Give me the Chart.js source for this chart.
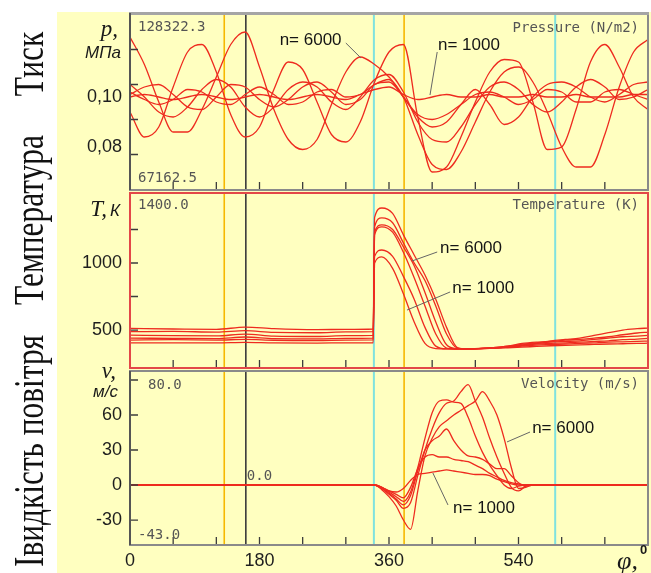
<!DOCTYPE html>
<html>
<head>
<meta charset="utf-8">
<script src="https://cdn.jsdelivr.net/npm/chart.js@4.4.0/dist/chart.umd.min.js"></script>
<style>
  html, body { margin: 0; padding: 0; background: #fff; }
  body { width: 651px; height: 573px; position: relative; overflow: hidden; }
  #bg { position: absolute; left: 57px; top: 12px; width: 594px; height: 561px; background: #ffffc0; }
  canvas { position: absolute; left: 58px; }
  #side { left: 0px; top: 0px; }
</style>
</head>
<body>
<div id="bg"></div>
<canvas id="side" width="58" height="573"></canvas>
<canvas id="cP" width="593" height="193" style="top:0px"></canvas>
<canvas id="cT" width="593" height="181" style="top:190px"></canvas>
<canvas id="cV" width="593" height="223" style="top:350px"></canvas>

<script>
// row captions on the left
const SIDE_TEXT = ['Тиск', 'Температура', 'Івидкість повітря'];
const SIDE_CENTER_Y = [64, 220, 451];

// crank angle, degrees
const X_LABELS = [0, 180, 360, 540];
const X_MARKS = [60, 120, 180, 240, 300, 360, 420, 480, 540, 600, 660];

// vertical reference lines
const MARKER_PHI = [131, 161, 339, 381, 591];
const MARKER_COLORS = ['#f6b800', '#3a3a3a', '#7fe2df', '#f6b800', '#7fe2df'];
const MARKER_WIDTHS = [1.6, 1.6, 2, 1.6, 2];

// pressure, MPa
const P_PHI = [0, 20, 40, 60, 80, 100, 120, 140, 160, 180, 200, 220, 240, 260, 280, 300, 320, 340, 360,
  380, 400, 420, 440, 460, 480, 500, 520, 540, 560, 580, 600, 620, 640, 660, 680, 700, 720];
const P1 = [0.124, 0.113, 0.098, 0.086, 0.086, 0.095, 0.108, 0.121, 0.126, 0.112, 0.095, 0.083, 0.079, 0.083, 0.097, 0.110, 0.116, 0.113, 0.108,
  0.100, 0.085, 0.073, 0.071, 0.078, 0.090, 0.102, 0.110, 0.112, 0.106, 0.094, 0.080, 0.072, 0.072, 0.085, 0.104, 0.118, 0.123];
const P2 = [0.094, 0.084, 0.088, 0.104, 0.118, 0.121, 0.110, 0.093, 0.084, 0.088, 0.103, 0.114, 0.111, 0.098, 0.085, 0.082, 0.090, 0.106, 0.118,
  0.121, 0.092, 0.070, 0.072, 0.084, 0.098, 0.110, 0.115, 0.114, 0.098, 0.079, 0.080, 0.095, 0.114, 0.121, 0.112, 0.100, 0.095];
const P3 = [0.105, 0.100, 0.094, 0.092, 0.096, 0.103, 0.107, 0.104, 0.096, 0.092, 0.096, 0.103, 0.106, 0.104, 0.098, 0.095, 0.100, 0.107, 0.109,
  0.102, 0.090, 0.083, 0.082, 0.088, 0.097, 0.104, 0.106, 0.103, 0.097, 0.094, 0.098, 0.104, 0.107, 0.104, 0.099, 0.100, 0.103];
const P4 = [0.101, 0.104, 0.105, 0.101, 0.096, 0.095, 0.100, 0.105, 0.104, 0.099, 0.096, 0.099, 0.104, 0.106, 0.102, 0.097, 0.099, 0.105, 0.106,
  0.100, 0.092, 0.088, 0.090, 0.097, 0.103, 0.097, 0.089, 0.092, 0.100, 0.105, 0.106, 0.104, 0.100, 0.098, 0.101, 0.105, 0.106];
const P5 = [0.100, 0.101, 0.100, 0.099, 0.100, 0.101, 0.100, 0.099, 0.100, 0.101, 0.100, 0.099, 0.100, 0.101, 0.100, 0.099, 0.101, 0.103, 0.104,
  0.101, 0.099, 0.100, 0.101, 0.100, 0.100, 0.101, 0.100, 0.100, 0.101, 0.100, 0.100, 0.101, 0.100, 0.100, 0.100, 0.101, 0.101];
const P6 = [0.102, 0.099, 0.097, 0.099, 0.103, 0.102, 0.098, 0.097, 0.101, 0.104, 0.101, 0.097, 0.098, 0.102, 0.103, 0.100, 0.101, 0.105, 0.107,
  0.100, 0.093, 0.091, 0.093, 0.097, 0.101, 0.102, 0.100, 0.097, 0.099, 0.103, 0.102, 0.098, 0.098, 0.102, 0.103, 0.101, 0.099];
const P_LABELS = [0.08, 0.10];
const P_MARKS = [0.077, 0.091, 0.105, 0.119];

// temperature, K
const T_PHI = [0, 60, 120, 160, 200, 260, 300, 338, 340, 350, 365, 380, 395, 410, 425, 440, 455, 470, 485,
  505, 525, 545, 565, 585, 605, 625, 645, 665, 685, 705, 720];
const T1 = [512, 508, 505, 522, 510, 503, 505, 508, 1340, 1410, 1370, 1210, 1060, 910, 730, 520, 370, 358, 360,
  365, 372, 395, 405, 420, 430, 440, 460, 480, 500, 510, 515];
const T2 = [488, 490, 485, 495, 482, 480, 486, 488, 1270, 1336, 1300, 1150, 1000, 870, 680, 470, 365, 360, 362,
  368, 380, 400, 410, 415, 425, 430, 440, 450, 465, 478, 485];
const T3 = [462, 458, 456, 470, 455, 452, 458, 460, 1230, 1285, 1250, 1120, 980, 780, 560, 390, 360, 358, 362,
  368, 380, 390, 400, 410, 415, 420, 430, 440, 450, 455, 460];
const T4 = [440, 438, 436, 448, 436, 434, 438, 440, 1210, 1270, 1230, 1080, 890, 680, 470, 365, 358, 360, 362,
  365, 375, 385, 395, 400, 405, 410, 415, 420, 428, 432, 438];
const T5 = [425, 428, 425, 430, 424, 422, 425, 426, 1050, 1097, 1050, 900, 730, 520, 380, 360, 360, 360, 363,
  366, 372, 380, 388, 392, 396, 400, 405, 410, 412, 415, 418];
const T6 = [405, 405, 404, 408, 404, 403, 405, 405, 1000, 1045, 960, 770, 560, 400, 362, 360, 360, 360, 362,
  364, 368, 372, 378, 383, 386, 390, 393, 396, 398, 400, 402];
const T_LABELS = [500, 1000];
const T_MARKS = [500, 750, 1000, 1250];

// air velocity, m/s
const V_PHI = [0, 340, 350, 360, 370, 380, 390, 400, 410, 420, 430, 440, 450, 460, 470, 480, 490, 500,
  510, 520, 530, 540, 550, 560, 570, 720];
const V1 = [0, 0, -4, -10, -18, -30, -38, -5, 25, 40, 50, 55, 60, 64, 68, 72, 80, 72, 60, 40, 15, -3, -2, 0, 0, 0];
const V2 = [0, 0, -3, -8, -13, -20, -15, 8, 30, 48, 62, 70, 72, 80, 86, 72, 58, 40, 24, 10, -2, -5, -1, 0, 0, 0];
const V3 = [0, 0, -2, -6, -10, -14, -6, 15, 40, 62, 72, 73, 71, 70, 58, 42, 28, 17, 8, 0, -3, -1, 0, 0, 0, 0];
const V4 = [0, 0, -3, -7, -12, -17, -9, 12, 30, 38, 42, 48, 38, 30, 25, 24, 22, 18, 14, 14, 8, 2, -1, 0, 0, 0];
const V5 = [0, 0, -2, -5, -8, -11, -2, 14, 24, 26, 24, 24, 22, 21, 20, 17, 14, 10, 7, 4, 2, 1, 0, 0, 0, 0];
const V6 = [0, 0, -2, -5, -6, -3, 4, 9, 10, 11, 12, 13, 12, 11, 10, 9, 9, 8, 5, 3, 1, 0, 0, 0, 0, 0];
const V_LABELS = [-30, 0, 30, 60];
const V_MARKS = [-30, 0, 30, 60, 90];

const RED = '#ee2b1f';
const BG = '#ffffc0';
const MONO = '14px "DejaVu Sans Mono", monospace';
const NOTE_FONT = '17px "Liberation Sans", Arial, sans-serif';

function txt(ctx, s, x, y, font, color, align) {
  ctx.font = font;
  ctx.fillStyle = color;
  ctx.textAlign = align || 'left';
  ctx.textBaseline = 'middle';
  ctx.fillText(s, x, y);
}

// rotated, slightly condensed captions
(function drawSide() {
  const ctx = document.getElementById('side').getContext('2d');
  ctx.font = '43px "Liberation Serif", "Times New Roman", serif';
  ctx.fillStyle = '#111';
  ctx.textAlign = 'center';
  ctx.textBaseline = 'alphabetic';
  SIDE_TEXT.forEach((t, i) => {
    ctx.save();
    ctx.translate(43, SIDE_CENTER_Y[i]);
    ctx.rotate(-Math.PI / 2);
    ctx.scale(0.73, 1);
    ctx.fillText(t, 0, 0);
    ctx.restore();
  });
})();

// panel background, reference lines, inner ticks, frame and texts
const panelPlugin = {
  id: 'panel',
  beforeDraw(chart) {
    const { ctx, chartArea: a } = chart;
    ctx.save();
    ctx.fillStyle = BG;
    ctx.fillRect(a.left, a.top, a.right - a.left, a.bottom - a.top);
    ctx.restore();
  },
  beforeDatasetsDraw(chart) {
    const { ctx, chartArea: a, scales: { x } } = chart;
    ctx.save();
    MARKER_PHI.forEach((p, i) => {
      const px = x.getPixelForValue(p);
      ctx.strokeStyle = MARKER_COLORS[i];
      ctx.lineWidth = MARKER_WIDTHS[i];
      ctx.beginPath();
      ctx.moveTo(px, a.top);
      ctx.lineTo(px, a.bottom);
      ctx.stroke();
    });
    ctx.restore();
  },
  afterDatasetsDraw(chart, args, o) {
    const { ctx, chartArea: a, scales: { x, y } } = chart;
    ctx.save();

    // tick marks pointing into the panel
    ctx.strokeStyle = '#3c3c3c';
    ctx.lineWidth = 1.3;
    ctx.beginPath();
    X_MARKS.forEach(v => {
      const px = x.getPixelForValue(v);
      ctx.moveTo(px, a.bottom);
      ctx.lineTo(px, a.bottom - 8);
    });
    o.yMarks.forEach(v => {
      const py = y.getPixelForValue(v);
      ctx.moveTo(a.left, py);
      ctx.lineTo(a.left + 8, py);
    });
    ctx.stroke();

    // frame
    ctx.strokeStyle = o.border;
    ctx.lineWidth = 2;
    ctx.strokeRect(a.left, a.top, a.right - a.left, a.bottom - a.top);
    if (o.topBar) {
      ctx.fillStyle = '#a5a5a5';
      ctx.fillRect(a.left - 1, a.top - 1, a.right - a.left + 2, 3);
    }
    if (o.leftEdge) {
      ctx.strokeStyle = o.leftEdge;
      ctx.beginPath();
      ctx.moveTo(a.left, a.top);
      ctx.lineTo(a.left, a.bottom);
      ctx.stroke();
    }

    // texts of the recorder display
    o.corner.forEach(c => {
      const bx = c.at[0] === 'r' ? a.right : a.left;
      const by = c.at[1] === 'b' ? a.bottom : a.top;
      txt(ctx, c.t, bx + c.dx, by + c.dy, MONO, '#555', c.at[0] === 'r' ? 'right' : 'left');
    });

    // axis titles
    o.titles.forEach(c => {
      const bx = c.at[0] === 'r' ? a.right : a.left;
      const by = c.at[1] === 'b' ? a.bottom : a.top;
      txt(ctx, c.t, bx + c.dx, by + c.dy, c.font, '#1a1a1a', c.align);
    });

    // speed notes with leader lines
    ctx.strokeStyle = '#666';
    ctx.lineWidth = 1;
    o.notes.forEach(n => {
      ctx.beginPath();
      ctx.moveTo(x.getPixelForValue(n.x1), y.getPixelForValue(n.y1));
      ctx.lineTo(x.getPixelForValue(n.x2), y.getPixelForValue(n.y2));
      ctx.stroke();
      txt(ctx, n.t, x.getPixelForValue(n.tx), y.getPixelForValue(n.ty), NOTE_FONT, '#151515', 'left');
    });

    if (o.zeroText) {
      txt(ctx, '0.0', x.getPixelForValue(MARKER_PHI[1]) + 1, y.getPixelForValue(0) - 9, MONO, '#555', 'left');
    }
    ctx.restore();
  }
};

function lines(phi, series) {
  return series.map(s => ({
    data: phi.map((p, i) => ({ x: p, y: s[i] })),
    borderColor: RED,
    borderWidth: 1.3,
    pointRadius: 0,
    fill: false,
    cubicInterpolationMode: 'monotone'
  }));
}

// scales must not push the plot area in for their edge labels
function noOverflow(s) {
  s.paddingTop = 0;
  s.paddingBottom = 0;
  s.paddingLeft = 0;
  s.paddingRight = 0;
}

function yAxis(min, max, labels, fmt) {
  return {
    min: min,
    max: max,
    afterFit: s => { s.width = 72; noOverflow(s); },
    afterBuildTicks: s => { s.ticks = labels.map(v => ({ value: v })); },
    grid: { display: false, drawTicks: false },
    border: { display: false },
    ticks: { padding: 8, color: '#1e1e1e', font: { family: 'Liberation Sans', size: 18 }, callback: fmt }
  };
}

function hiddenX() {
  return { type: 'linear', min: 0, max: 720, display: false };
}

function makeChart(id, datasets, padding, xScale, yScale, panel) {
  return new Chart(document.getElementById(id), {
    type: 'line',
    data: { datasets: datasets },
    options: {
      responsive: false,
      animation: false,
      events: [],
      layout: { padding: padding },
      plugins: { legend: { display: false }, tooltip: { enabled: false }, panel: panel },
      scales: { x: xScale, y: yScale }
    },
    plugins: [panelPlugin]
  });
}

const SERIF_IT = 'italic 23px "Liberation Serif", serif';
const SANS_IT = 'italic 17px "Liberation Sans", sans-serif';

makeChart('cP', lines(P_PHI, [P1, P2, P3, P4, P5, P6]),
  { top: 13, bottom: 3, left: 0, right: 3 },
  hiddenX(),
  yAxis(0.0628, 0.1336, P_LABELS, v => v.toFixed(2).replace('.', ',')),
  {
    yMarks: P_MARKS, border: '#8a8a8a', leftEdge: '#555', topBar: true,
    corner: [
      { t: '128322.3', at: 'lt', dx: 8, dy: 14 },
      { t: '67162.5', at: 'lb', dx: 8, dy: -12 },
      { t: 'Pressure (N/m2)', at: 'rt', dx: -9, dy: 15 }
    ],
    titles: [
      { t: 'p,', at: 'lt', dx: -12, dy: 17, font: SERIF_IT, align: 'right' },
      { t: 'МПа', at: 'lt', dx: -9, dy: 40, font: SANS_IT, align: 'right' }
    ],
    notes: [
      { t: 'n= 6000', tx: 208, ty: 0.1228, x1: 300, y1: 0.1216, x2: 321, y2: 0.1156 },
      { t: 'n= 1000', tx: 428, ty: 0.1208, x1: 427, y1: 0.118, x2: 417, y2: 0.1008 }
    ]
  });

makeChart('cT', lines(T_PHI, [T1, T2, T3, T4, T5, T6]),
  { top: 3, bottom: 3, left: 0, right: 3 },
  hiddenX(),
  yAxis(217, 1522, T_LABELS, v => String(v)),
  {
    yMarks: T_MARKS, border: '#e34848',
    corner: [
      { t: '1400.0', at: 'lt', dx: 8, dy: 12 },
      { t: 'Temperature (K)', at: 'rt', dx: -9, dy: 12 }
    ],
    titles: [
      { t: 'T,', at: 'lt', dx: -23, dy: 17, font: SERIF_IT, align: 'right' },
      { t: 'К', at: 'lt', dx: -20, dy: 18, font: SANS_IT, align: 'left' }
    ],
    notes: [
      { t: 'n= 6000', tx: 431, ty: 1112, x1: 427, y1: 1082, x2: 392, y2: 1015 },
      { t: 'n= 1000', tx: 448, ty: 813, x1: 445, y1: 784, x2: 385, y2: 649 }
    ]
  });

makeChart('cV', lines(V_PHI, [V1, V2, V3, V4, V5, V6]),
  { top: 21, bottom: 0, left: 0, right: 3 },
  {
    type: 'linear', min: 0, max: 720,
    afterFit: s => { s.height = 28; noOverflow(s); },
    afterBuildTicks: s => { s.ticks = X_LABELS.map(v => ({ value: v })); },
    grid: { display: false, drawTicks: false },
    border: { display: false },
    ticks: { padding: 5, color: '#1e1e1e', font: { family: 'Liberation Sans', size: 18 }, maxRotation: 0, autoSkip: false }
  },
  yAxis(-51.4, 97.7, V_LABELS, v => String(v)),
  {
    yMarks: V_MARKS, border: '#8a8a8a', leftEdge: '#555', zeroText: true,
    corner: [
      { t: '80.0', at: 'lt', dx: 18, dy: 14 },
      { t: '-43.0', at: 'lb', dx: 8, dy: -10 },
      { t: 'Velocity (m/s)', at: 'rt', dx: -9, dy: 13 }
    ],
    titles: [
      { t: 'v,', at: 'lt', dx: -14, dy: 1, font: SERIF_IT, align: 'right' },
      { t: 'м/с', at: 'lt', dx: -12, dy: 21, font: SANS_IT, align: 'right' },
      { t: 'φ,', at: 'rb', dx: -10, dy: 17, font: 'italic 26px "Liberation Serif", serif', align: 'right' },
      { t: '0', at: 'rb', dx: -8, dy: 5, font: 'bold 13px "Liberation Sans", sans-serif', align: 'left' }
    ],
    notes: [
      { t: 'n= 6000', tx: 559, ty: 48.9, x1: 556, y1: 45.4, x2: 524, y2: 36.9 },
      { t: 'n= 1000', tx: 449, ty: -19.7, x1: 442, y1: -17.1, x2: 421, y2: 10.3 }
    ]
  });
</script>
</body>
</html>
